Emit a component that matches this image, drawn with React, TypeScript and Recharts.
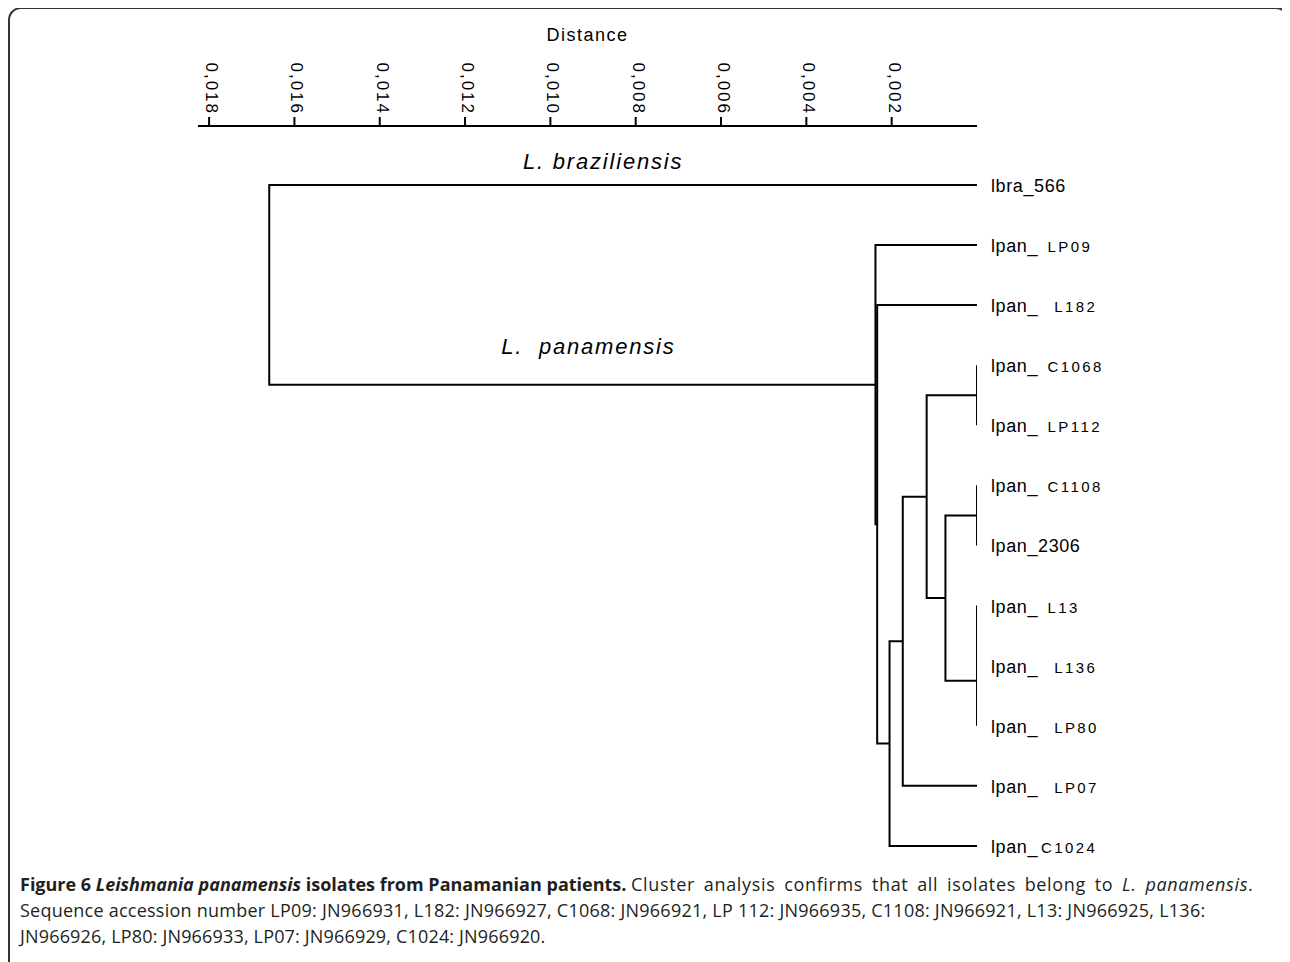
import React from "react";
import { ComposedChart, Line, XAxis, YAxis, ReferenceDot } from "recharts";

// leaves, top to bottom
const leafNames = [
  "lbra_566",
  "lpan_ LP09",
  "lpan_  L182",
  "lpan_ C1068",
  "lpan_ LP112",
  "lpan_ C1108",
  "lpan_2306",
  "lpan_ L13",
  "lpan_  L136",
  "lpan_  LP80",
  "lpan_  LP07",
  "lpan_C1024",
];

// node (12 + i) joins mergeLeft[i] and mergeRight[i] at distance mergeHeight[i]
const mergeLeft = [3, 5, 7, 14, 13, 12, 17, 18, 2, 1, 0];
const mergeRight = [4, 6, 8, 9, 15, 16, 10, 11, 19, 20, 21];
const mergeHeight = [0, 0, 0, 0, 0.00074, 0.00118, 0.00174, 0.00205, 0.00234, 0.00238, 0.01659];

const distanceTicks = [0.002, 0.004, 0.006, 0.008, 0.01, 0.012, 0.014, 0.016, 0.018];

const cladeNames = ["L. braziliensis", "L.  panamensis"];
const cladeNodes = [0, 21];

// positions of every node (leaf index for y, distance for x)
const nodeY: number[] = leafNames.map((_, i) => i);
const nodeH: number[] = leafNames.map(() => 0);
mergeLeft.forEach((l, i) => {
  const r = mergeRight[i];
  nodeY.push((nodeY[l] + nodeY[r]) / 2);
  nodeH.push(mergeHeight[i]);
});
const rootIdx = nodeY.length - 1;

// one elbow polyline per merge
const branches = mergeLeft.map((l, i) => {
  const r = mergeRight[i];
  const h = mergeHeight[i];
  return [
    { d: nodeH[l], y: nodeY[l] },
    { d: h, y: nodeY[l] },
    { d: h, y: nodeY[r] },
    { d: nodeH[r], y: nodeY[r] },
  ];
});

const treeFont = "'Liberation Sans', Arial, sans-serif";

function DistTick(props: any) {
  const { x, y, payload } = props;
  const label = payload.value.toFixed(3).replace(".", ",");
  return (
    <text
      transform={`translate(${x},${y}) rotate(90)`}
      textAnchor="end"
      dy={3}
      fontSize={17}
      letterSpacing={2}
      fontFamily={treeFont}
      fill="#000"
    >
      {label}
    </text>
  );
}

function LeafTick(props: any) {
  const { x, y, payload } = props;
  const name = leafNames[payload.value] ?? "";
  const cut = name.indexOf("_") + 1;
  const head = name.slice(0, cut);
  const rest = name.slice(cut);
  const small = /[A-Z]/.test(rest);
  return (
    <text
      x={x}
      y={y}
      dy={7}
      fontSize={18}
      fontFamily={treeFont}
      fill="#000"
      style={{ whiteSpace: "pre" }}
    >
      <tspan letterSpacing={0.6}>{small ? head : name}</tspan>
      {small && (
        <tspan dx={3} fontSize={15} letterSpacing={2.4}>
          {rest}
        </tspan>
      )}
    </text>
  );
}

const cladeShift = [
  { dx: -20, dy: -16 },
  { dx: 16, dy: -31 },
];

export default function App() {
  return (
    <div style={{ position: "relative", width: 1282, height: 954, overflow: "hidden" }}>
      <div
        style={{
          position: "absolute",
          left: 0,
          top: -1,
          width: 1281,
          height: 1100,
          boxSizing: "border-box",
          border: "2px solid #333",
          borderRadius: 13,
        }}
      />
      <div style={{ position: "absolute", left: 0, top: 0 }}>
        <ComposedChart
          width={1200}
          height={880}
          margin={{ top: 18, right: 11, bottom: 6, left: 190 }}
        >
          <XAxis
            type="number"
            dataKey="d"
            orientation="top"
            reversed
            domain={[0, 0.01826]}
            allowDataOverflow
            ticks={distanceTicks}
            interval={0}
            height={100}
            tickSize={9}
            tickMargin={2}
            axisLine={{ stroke: "#000", strokeWidth: 2 }}
            tickLine={{ stroke: "#000", strokeWidth: 2 }}
            tick={<DistTick />}
            label={{
              value: "Distance",
              position: "insideTop",
              offset: 2,
              fill: "#000",
              fontSize: 18,
              letterSpacing: 1.5,
              fontFamily: treeFont,
            }}
          />
          <YAxis
            type="number"
            orientation="right"
            reversed
            domain={[-0.98, 11.6]}
            allowDataOverflow
            ticks={leafNames.map((_, i) => i)}
            interval={0}
            width={220}
            axisLine={false}
            tickLine={false}
            tickSize={0}
            tickMargin={14}
            tick={<LeafTick />}
          />
          {branches.map((seg, i) => (
            <Line
              key={i}
              data={seg}
              dataKey="y"
              type="linear"
              stroke="#000"
              strokeWidth={2}
              dot={false}
              activeDot={false}
              isAnimationActive={false}
            />
          ))}
          {cladeNodes.map((c, i) => (
            <ReferenceDot
              key={c}
              x={(nodeH[rootIdx] + nodeH[c]) / 2}
              y={nodeY[c]}
              r={0}
              ifOverflow="visible"
              shape={(p: any) => (
                <text
                  x={p.cx + cladeShift[i].dx}
                  y={p.cy + cladeShift[i].dy}
                  textAnchor="middle"
                  fontSize={22}
                  fontStyle="italic"
                  letterSpacing={1.8}
                  fontFamily={treeFont}
                  fill="#000"
                  style={{ whiteSpace: "pre" }}
                >
                  {cladeNames[i]}
                </text>
              )}
            />
          ))}
        </ComposedChart>
      </div>
      <div
        style={{
          position: "absolute",
          left: 12,
          top: 863,
          fontFamily: "'Open Sans', sans-serif",
          fontSize: 18,
          lineHeight: "26px",
          color: "#231f20",
          whiteSpace: "nowrap",
        }}
      >
        <div>
          <b>
            Figure 6 <i>Leishmania panamensis</i> isolates from Panamanian patients.
          </b>{" "}
          <span style={{ letterSpacing: 0.65, wordSpacing: 3.5 }}>
            Cluster analysis confirms that all isolates belong to <i>L. panamensis</i>.
          </span>
        </div>
        <div style={{ letterSpacing: 0.24 }}>
          Sequence accession number LP09: JN966931, L182: JN966927, C1068: JN966921, LP 112:
          JN966935, C1108: JN966921, L13: JN966925, L136:
        </div>
        <div style={{ letterSpacing: 0.17 }}>
          JN966926, LP80: JN966933, LP07: JN966929, C1024: JN966920.
        </div>
      </div>
    </div>
  );
}
